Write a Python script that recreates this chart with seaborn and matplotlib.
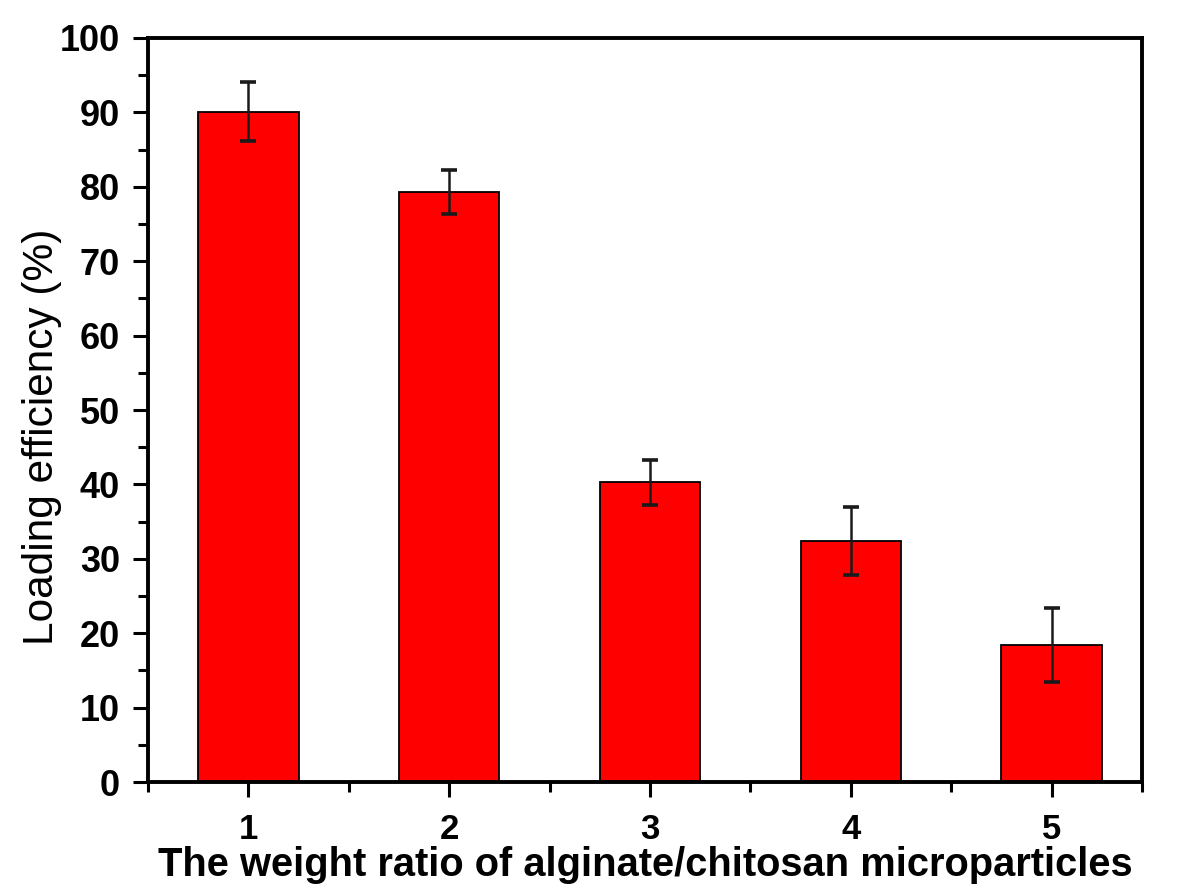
import matplotlib
matplotlib.use("Agg")
import matplotlib.pyplot as plt
import seaborn as sns
from matplotlib.ticker import MultipleLocator, FixedLocator

categories = ["1", "2", "3", "4", "5"]
values = [90.1, 79.3, 40.3, 32.4, 18.4]
errors = [4.0, 3.0, 3.0, 4.6, 5.0]
y_ticks = [0, 10, 20, 30, 40, 50, 60, 70, 80, 90, 100]

sns.set_style("ticks")
plt.rcParams['font.family'] = ['Liberation Sans', 'DejaVu Sans']
for k in ["text.color", "axes.labelcolor", "xtick.color", "ytick.color", "axes.edgecolor"]:
    plt.rcParams[k] = "black"

fig = plt.figure(figsize=(12, 8.96), dpi=100)
ax = fig.add_axes([0.1233, 0.1272, 0.8284, 0.8304])

sns.barplot(x=categories, y=values, color="#ff0000", edgecolor="black",
            linewidth=1.3, width=0.5, saturation=1, ax=ax, errorbar=None)

centers = [p.get_x() + p.get_width() / 2 for p in ax.patches]
ax.errorbar(centers, values, yerr=errors, fmt="none", ecolor="#1a1a1a",
            elinewidth=1.8, capsize=5.5, capthick=2.6)

ax.set_xlim(-0.5, 4.45)
ax.set_ylim(0, 100)
ax.set_yticks(y_ticks)
ax.yaxis.set_minor_locator(MultipleLocator(5))
ax.xaxis.set_minor_locator(FixedLocator([-0.5, 0.5, 1.5, 2.5, 3.5, 4.45]))

for s in ax.spines.values():
    s.set_linewidth(2.8)
    s.set_color("black")

ax.tick_params(axis="both", which="major", direction="out", length=11, width=2.2)
ax.tick_params(axis="both", which="minor", direction="out", length=7, width=2.2)
ax.tick_params(axis="y", labelsize=26, pad=9)
ax.tick_params(axis="x", labelsize=25, pad=11)
for lab in ax.get_yticklabels() + ax.get_xticklabels():
    lab.set_fontweight("bold")

ax.set_ylabel("Loading efficiency (%)", fontsize=30.5)
ax.yaxis.set_label_coords(-0.0865, 0.464)
ax.set_xlabel("The weight ratio of alginate/chitosan microparticles",
              fontsize=28.7, fontweight="bold", labelpad=0)

fig.savefig("out.png", dpi=100)
